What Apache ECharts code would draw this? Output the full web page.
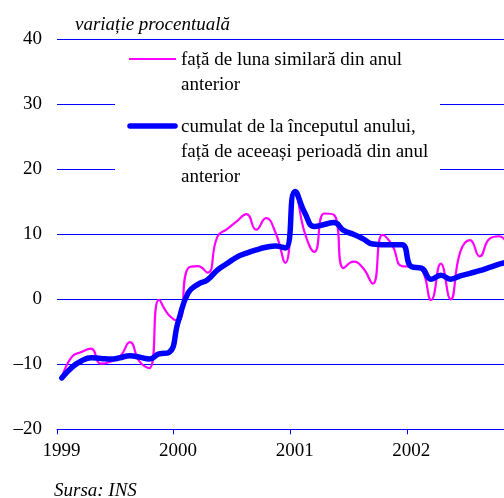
<!DOCTYPE html>
<html>
<head>
<meta charset="utf-8">
<script src="https://cdn.jsdelivr.net/npm/echarts@6/dist/echarts.min.js"></script>
<style>
  html, body { margin: 0; padding: 0; background: #fff; }
  #chart { width: 504px; height: 498px; }
</style>
</head>
<body>
<div id="chart"></div>
<script>
// ani si pozitia lor pe axa (luni de la ian. 1999)
const yearLabels = ['1999', '2000', '2001', '2002'];
const yearTicks = [0, 12, 24, 36];

// fata de luna similara din anul anterior (ian. 1999 - nov. 2002)
const monthlyYoY = [
  -12.1, -8.9, -8.1, -7.6, -9.9, -9.6, -8.8, -6.6, -9.6, -10.6, -0.1, -2.4,
  -3.3, 4.8, 5.1, 4.1, 9.6, 10.8, 12.0, 13.1, 10.7, 12.5, 10.2, 5.6,
  16.6, 10.2, 7.3, 13.2, 13.0, 4.8, 5.8, 4.8, 2.4, 9.9, 8.3, 5.1,
  5.0, 4.6, -0.1, 5.5, 0.0, 7.3, 9.1, 6.6, 9.3, 9.7, 8.0
];

// cumulat de la inceputul anului
const cumulativeYtd = [
  -12.1, -10.5, -9.5, -9.0, -9.1, -9.2, -9.0, -8.7, -8.9, -9.2, -8.4, -8.2,
  -3.3, 1.0, 2.3, 3.0, 4.5, 5.5, 6.5, 7.1, 7.6, 8.0, 8.2, 7.9,
  16.6, 13.3, 11.2, 11.5, 11.8, 10.6, 10.0, 9.3, 8.5, 8.4, 8.4, 8.4,
  5.0, 4.8, 3.1, 3.7, 3.1, 3.6, 4.0, 4.4, 4.9, 5.4, 5.8
];

const legendNames = [
  'față de luna similară din anul\nanterior',
  'cumulat de la începutul anului,\nfață de aceeași perioadă din anul\nanterior'
];

const FONT = '"Liberation Serif", "Times New Roman", serif';
const BLUE = '#0000ff';
const PINK = '#ff00ff';

// punctele sunt la mijlocul lunii
const toPoints = arr => arr.map((v, i) => [i + 0.5, v]);

const chart = echarts.init(document.getElementById('chart'), null, { renderer: 'canvas' });

const option = {
  animation: false,
  backgroundColor: '#fff',
  grid: { left: 57, right: 0, top: 39.3, bottom: 68.7 },
  xAxis: {
    type: 'value',
    min: 0,
    max: 46,
    interval: 12,
    axisLine: { show: true, onZero: false, lineStyle: { color: BLUE, width: 1 } },
    axisTick: { show: true, length: 5, inside: false, customValues: yearTicks, lineStyle: { color: BLUE } },
    axisLabel: {
      customValues: yearTicks,
      formatter: v => yearLabels[yearTicks.indexOf(v)] || '',
      color: '#000', fontFamily: FONT, fontSize: 19, margin: 12,
      padding: [0, 0, 0, 9]
    },
    splitLine: { show: false }
  },
  yAxis: {
    type: 'value',
    min: -20,
    max: 40,
    interval: 10,
    axisLine: { show: false },
    axisTick: { show: false },
    axisLabel: {
      formatter: v => String(v).replace('-', '–'),
      color: '#000', fontFamily: FONT, fontSize: 19, margin: 15
    },
    splitLine: { show: true, lineStyle: { color: BLUE, width: 1 } }
  },
  series: [
    {
      name: legendNames[0],
      type: 'line',
      data: toPoints(monthlyYoY),
      smooth: 0.5,
      showSymbol: false,
      lineStyle: { color: PINK, width: 2.2 },
      z: 3
    },
    {
      name: legendNames[1],
      type: 'line',
      data: toPoints(cumulativeYtd),
      smooth: 0.5,
      showSymbol: false,
      lineStyle: { color: BLUE, width: 5.5, cap: 'round', join: 'round' },
      z: 4
    }
  ],
  graphic: [
    // fundal alb al legendei
    { type: 'rect', z: 1, shape: { x: 115, y: 45, width: 325, height: 145 }, style: { fill: '#fff' } },
    { type: 'line', z: 5, shape: { x1: 129, y1: 59, x2: 176, y2: 59 }, style: { stroke: PINK, lineWidth: 2 } },
    { type: 'line', z: 5, shape: { x1: 130, y1: 126, x2: 175, y2: 126 }, style: { stroke: BLUE, lineWidth: 5.5, lineCap: 'round' } },
    {
      type: 'text', z: 5, x: 181, y: 47.5,
      style: { text: legendNames[0], font: '19px ' + FONT, fill: '#000', lineHeight: 25, verticalAlign: 'top' }
    },
    {
      type: 'text', z: 5, x: 181, y: 114.5,
      style: { text: legendNames[1], font: '19px ' + FONT, fill: '#000', lineHeight: 25, verticalAlign: 'top' }
    },
    {
      type: 'text', z: 5, x: 75, y: 25,
      style: { text: 'variație procentuală', font: 'italic 19px ' + FONT, fill: '#000', verticalAlign: 'middle' }
    },
    {
      type: 'text', z: 5, x: 54, y: 491,
      style: { text: 'Sursa: INS', font: 'italic 19px ' + FONT, fill: '#000', verticalAlign: 'middle' }
    }
  ]
};

chart.setOption(option);
</script>
</body>
</html>
